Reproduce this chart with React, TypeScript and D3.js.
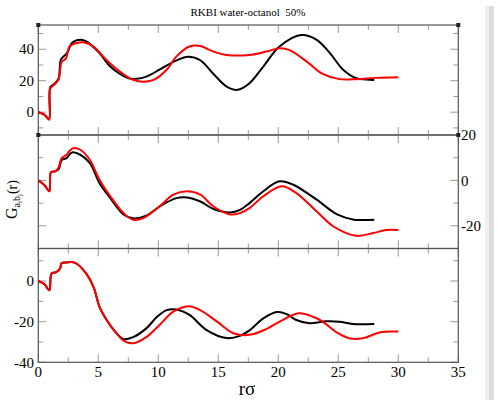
import React from "react";
import * as d3 from "d3";

const title = "RKBI water-octanol  50%";
const xTicks = [0, 5, 10, 15, 20, 25, 30, 35];

// Top panel
const topBlackR = [0, 0.5, 0.9, 1.0, 1.4, 1.7, 1.9, 2.4, 2.8, 3.5, 4.0, 5.1, 6.0, 6.8, 7.6, 8.2, 9.0, 10.1, 11.25, 12.5, 13.5, 14.6, 15.7, 16.6, 17.6, 18.75, 20.1, 21.9, 23.2, 24.3, 25.4, 26.5, 27.3, 28];
const topBlackG = [0, -1.5, -4.2, 15.9, 18.4, 21.6, 33.6, 37.5, 44, 46, 45, 37.5, 29, 24.3, 21.4, 21.2, 22.6, 27, 32, 35.3, 33, 24.3, 16.3, 14.2, 18.4, 29, 41.7, 49, 46, 37.5, 27, 21.6, 20.8, 20.5];
const topRedR = [0, 0.5, 0.9, 1.0, 1.4, 1.7, 1.95, 2.3, 2.6, 3.2, 3.75, 4.6, 5.7, 6.8, 7.9, 8.75, 9.6, 10.7, 11.5, 12.6, 13.5, 14.6, 15.7, 17.6, 19, 20.1, 20.9, 22.4, 23.7, 25.1, 26.5, 28.1, 30];
const topRedG = [0, -1.5, -4.8, 15, 18, 21, 32, 34, 41.7, 44, 44.4, 41.7, 33, 25.8, 20.5, 19.3, 20.5, 27, 35.3, 41.7, 42, 38.5, 36.4, 36.4, 38.5, 40.6, 39.6, 32, 24.3, 21, 21, 21.8, 22.2];

// Middle panel
const midBlackR = [0, 0.5, 0.92, 1.05, 1.4, 1.7, 1.95, 2.36, 2.8, 3.5, 4.3, 5.1, 6, 7.1, 7.9, 9, 10.1, 11.5, 12.4, 13.5, 14.6, 16, 16.8, 17.6, 18.75, 20.1, 21.25, 23.2, 24.9, 26.3, 27.2, 28];
const midBlackG = [0, -2, -4.8, 3.5, 4, 5, 9, 9.8, 12.3, 11.3, 7.6, -1.2, -7.8, -15, -16.7, -15.5, -11.5, -7.8, -7.5, -9.3, -12.6, -14.1, -13, -10, -4.8, -0.4, -1.9, -8.5, -15, -17.3, -17.4, -17.3];
const midRedR = [0, 0.5, 0.92, 1.05, 1.4, 1.67, 1.95, 2.36, 2.6, 2.9, 3.5, 4.3, 5.1, 6, 7.1, 7.9, 8.75, 10.1, 11.25, 12.4, 13.5, 14.6, 16, 16.8, 17.6, 18.75, 20.3, 21.5, 23.2, 24.6, 26.5, 27.9, 29, 30];
const midRedG = [0, -2, -4.8, 3.5, 4, 5.4, 9.8, 11.3, 13, 14.2, 13.5, 9, 0.3, -7, -14.4, -17.3, -16.6, -11.5, -6.3, -4.8, -6.3, -11.5, -15, -14.4, -12.2, -7, -2.6, -5.6, -13.7, -20.3, -24.4, -23.2, -21.8, -21.8];

// Bottom panel
const botBlackR = [0, 0.5, 0.92, 1.1, 1.5, 1.8, 1.95, 2.36, 2.8, 3.2, 4, 4.6, 5.1, 5.7, 6.4, 7.1, 7.9, 9, 9.9, 10.7, 11.5, 12.6, 14, 15.7, 16.8, 17.6, 18.75, 19.9, 20.7, 21.5, 22.6, 24, 25.1, 26.2, 28];
const botBlackG = [0, -1.5, -4.6, 3.6, 4.4, 6, 8.8, 9.1, 9.3, 8.5, 3.6, -2.9, -12.7, -19.2, -24.9, -28.6, -27.6, -23.3, -17.6, -14.3, -14, -16.7, -24, -28.1, -27, -24.3, -18.4, -15.3, -16.3, -19.2, -20.8, -19.8, -20, -21.1, -21.1];
const botRedR = [0, 0.5, 0.92, 1.1, 1.5, 1.8, 1.95, 2.36, 2.8, 3.2, 4, 4.6, 5.1, 5.7, 6.4, 7.1, 7.9, 9, 10.1, 11.25, 12.5, 13.5, 14.9, 16.25, 17.6, 19, 20.1, 21.7, 22.9, 23.7, 24.9, 26, 27.1, 28.5, 30];
const botRedG = [0, -1.5, -4.6, 3.6, 4.4, 6, 8.8, 9.1, 9.3, 8.5, 3.6, -2.9, -12.7, -19.2, -24.9, -29.3, -30.6, -27.6, -21.6, -15.1, -12.4, -14.3, -20, -25.7, -26.5, -23.7, -20, -15.9, -17.6, -20, -25.4, -28.3, -28.1, -25.2, -24.9];

const X0 = 38.3, X1 = 458.3;
const x = d3.scaleLinear().domain([0, 35]).range([X0, X1]);

type Panel = {
  y: d3.ScaleLinear<number, number>;
  major: number[];
  minor: number[];
  labelLeft: boolean;
  labelRight: boolean;
  series: { r: number[]; g: number[]; color: string }[];
};

const panels: Panel[] = [
  {
    y: d3.scaleLinear().domain([-14.5, 55.4]).range([135, 25]),
    major: [0, 20, 40],
    minor: [-10, 10, 30, 50],
    labelLeft: true,
    labelRight: false,
    series: [
      { r: topBlackR, g: topBlackG, color: "#000" },
      { r: topRedR, g: topRedG, color: "#ff0000" },
    ],
  },
  {
    y: d3.scaleLinear().domain([-30, 20]).range([248.5, 135]),
    major: [-20, 0, 20],
    minor: [-30, -10, 10],
    labelLeft: false,
    labelRight: true,
    series: [
      { r: midBlackR, g: midBlackG, color: "#000" },
      { r: midRedR, g: midRedG, color: "#ff0000" },
    ],
  },
  {
    y: d3.scaleLinear().domain([-40, 16]).range([362.3, 248.5]),
    major: [-40, -20, 0],
    minor: [-30, -10, 10],
    labelLeft: true,
    labelRight: false,
    series: [
      { r: botBlackR, g: botBlackG, color: "#000" },
      { r: botRedR, g: botRedG, color: "#ff0000" },
    ],
  },
];

const font = "'Liberation Serif', 'Times New Roman', serif";

export default function App() {
  const xMinor = d3.range(0, 35.01, 2.5);
  return (
    <svg
      width={498}
      height={406}
      style={{ position: "absolute", left: 0, top: 0, background: "#fff" }}
      fontFamily={font}
    >
      <rect x={0} y={0} width={498} height={406} fill="#fff" />
      <rect x={485} y={6} width={4} height={394} fill="#eeeeee" />
      <rect x={489} y={6} width={5} height={394} fill="#dcdcdc" />
      <text x={248} y={16} fontSize={11} textAnchor="middle" style={{ whiteSpace: "pre" }}>
        {title}
      </text>
      {panels.map((p, pi) => {
        const [yb, yt] = p.y.range();
        return (
          <g key={pi}>
            {xMinor.map((v, i) => {
              const isMaj = Math.abs(v % 5) < 1e-6;
              const len = isMaj ? 8 : 5;
              return (
                <g key={i} stroke="#999" strokeWidth={1}>
                  <line x1={x(v)} x2={x(v)} y1={yt} y2={yt + len} />
                  <line x1={x(v)} x2={x(v)} y1={yb} y2={yb - len} />
                </g>
              );
            })}
            {[...p.major.map((v) => [v, 8]), ...p.minor.map((v) => [v, 5])].map(([v, len], i) => (
              <g key={"y" + i} stroke="#999" strokeWidth={1}>
                <line x1={X0} x2={X0 + len} y1={p.y(v)} y2={p.y(v)} />
                <line x1={X1} x2={X1 - len} y1={p.y(v)} y2={p.y(v)} />
              </g>
            ))}
            <rect x={X0} y={yt} width={X1 - X0} height={yb - yt} fill="none" stroke="#555" strokeWidth={1.2} />
            {p.series.map((s, si) => {
              const pts: [number, number][] = s.r.map((r, i) => [x(r), p.y(s.g[i])]);
              const path = d3.line().curve(d3.curveCatmullRom.alpha(0.5))(pts) || "";
              return <path key={si} d={path} fill="none" stroke={s.color} strokeWidth={2} strokeLinejoin="round" />;
            })}
            {p.labelLeft &&
              p.major.map((v) => (
                <text key={"ll" + v} x={34} y={p.y(v)} dy="0.35em" fontSize={15} textAnchor="end">
                  {v}
                </text>
              ))}
            {p.labelRight &&
              p.major.map((v) => (
                <text key={"lr" + v} x={461} y={p.y(v)} dy="0.35em" fontSize={15} textAnchor="start">
                  {v}
                </text>
              ))}
          </g>
        );
      })}
      {[
        [X0, 25],
        [X1, 25],
        [X0, 135],
        [X1, 135],
      ].map(([cx, cy], i) => (
        <rect key={"m" + i} x={cx - 2} y={cy - 2} width={4} height={4} fill="#222" />
      ))}
      {xTicks.map((v) => (
        <text key={"xt" + v} x={x(v)} y={377} fontSize={15} textAnchor="middle">
          {v}
        </text>
      ))}
      <text x={247} y={395} fontSize={19} textAnchor="middle">
        rσ
      </text>
      <text transform="translate(17,219) rotate(-90)" fontSize={16}>
        <tspan>G</tspan>
        <tspan fontSize={10} dy={3}>a</tspan>
        <tspan fontSize={7} dy={2}>i</tspan>
        <tspan fontSize={10} dy={-2}>b</tspan>
        <tspan fontSize={7} dy={2}>j</tspan>
        <tspan fontSize={14} dy={-5}>(r)</tspan>
      </text>
    </svg>
  );
}
